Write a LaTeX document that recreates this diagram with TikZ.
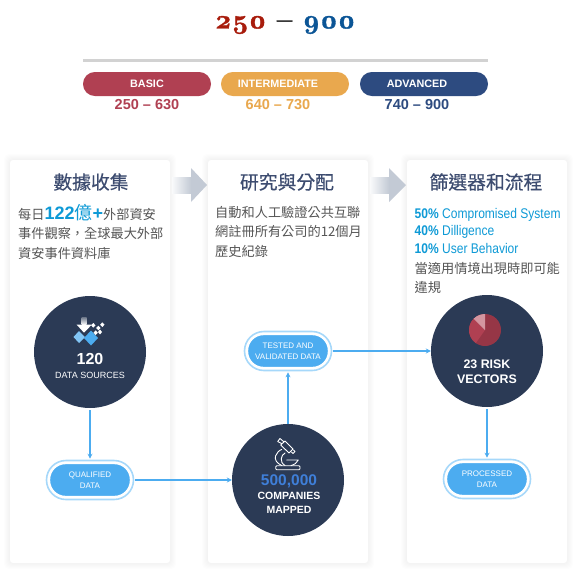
\documentclass[tikz,border=0pt]{standalone}
\usepackage{fontspec}
\usepackage{xcolor}
\usepackage{tikz}
\usetikzlibrary{arrows.meta,positioning}
\setmainfont{Liberation Sans}
\newfontfamily\cjk{Noto Sans CJK TC}
\newfontfamily\cjkhead[FakeBold=0.5]{Noto Sans CJK TC}
\newfontfamily\narrowsans[FakeStretch=0.86]{Liberation Sans}
\newfontfamily\titlefont[Numbers=OldStyle,Extension=.otf,FakeBold=1.2]{lmroman10-bold}
\definecolor{navy}{HTML}{2B3A55}
\definecolor{sky}{HTML}{4CACF0}
\definecolor{skylight}{HTML}{A6D8FA}
\definecolor{basiccol}{HTML}{B04052}
\definecolor{midcol}{HTML}{E9A84E}
\definecolor{advcol}{HTML}{2D4B80}
\definecolor{headcol}{HTML}{3D4C70}
\definecolor{bodycol}{HTML}{555555}
\definecolor{cyantext}{HTML}{0E9AD6}
\definecolor{arrowgray}{HTML}{C3CAD5}
\definecolor{countcol}{HTML}{3F7FD9}

\begin{document}
\begin{tikzpicture}[
  x=1pt,y=-1pt,
  band/.style={rectangle,rounded corners=11.9pt,minimum width=128pt,minimum height=24pt,inner sep=0pt,text=white,font=\fontsize{10.8}{13}\selectfont\bfseries},
  score/.style={font=\fontsize{14.5}{16}\selectfont\bfseries,inner sep=0pt},
  card/.style={fill=white,rounded corners=3pt,minimum width=160pt,minimum height=403pt,inner sep=0pt},
  cardtitle/.style={font=\cjkhead\fontsize{18.8}{20}\selectfont,text=headcol,inner sep=0pt},
  cardtext/.style={font=\cjk\fontsize{13.2}{19.4}\selectfont,text=bodycol,align=left,anchor=north west,inner sep=0pt},
  hub/.style={circle,fill=navy,minimum size=112pt,inner sep=0pt,align=center,text=white},
  stage/.style={rectangle,rounded corners=16pt,fill=sky,draw=white,line width=1.4pt,minimum width=81pt,minimum height=33pt,inner sep=0pt,align=center,text=white,font=\fontsize{8}{11}\selectfont},
  ring/.style={rectangle,rounded corners=19.5pt,draw=skylight,line width=1.6pt,minimum width=87pt,minimum height=39pt,inner sep=0pt},
  arr/.style={-{Stealth[length=5pt,width=5pt]},sky,line width=1.1pt}
]
\useasboundingbox (0,0) rectangle (576,587);
\fill[white] (0,0) rectangle (576,587);

\node[inner sep=0pt] (range) at (285,25) {\titlefont\fontsize{27}{30}\selectfont\textcolor[HTML]{A81C0C}{250} \textcolor{black}{–} \textcolor[HTML]{0B5596}{900}};
\fill[gray!35] (83,58.5) rectangle (488,61.5);

\node[band,fill=basiccol] (basic) at (147,84) {BASIC};
\node[band,fill=midcol] (mid) at (285,84) {\hspace*{-14pt}INTERMEDIATE};
\node[band,fill=advcol] (adv) at (424,84) {\hspace*{-14pt}ADVANCED};
\node[score,text=basiccol] (basicrange) at (147,105) {250 – 630};
\node[score,text=midcol] (midrange) at (278,105) {640 – 730};
\node[score,text=advcol] (advrange) at (417,105) {740 – 900};

\foreach \cx in {90,288,487}
  \foreach \s in {6,5,4,3,2,1}
    \fill[black,opacity=0.008,rounded corners=5pt] (\cx-80-\s,160-\s) rectangle (\cx+80+\s,563+\s);

\node[card] (collect) at (90,361.5) {};
\node[card] (research) at (288,361.5) {};
\node[card] (filter) at (487,361.5) {};

\shade[left color=arrowgray!10,right color=arrowgray] (172,177) rectangle (191,193);
\fill[arrowgray] (191,168) -- (207,185) -- (191,202) -- cycle;
\shade[left color=arrowgray!10,right color=arrowgray] (370,177) rectangle (389,193);
\fill[arrowgray] (389,168) -- (406,185) -- (389,202) -- cycle;

\node[cardtitle] (collecthead) at (91,182) {數據收集};
\node[cardtitle] (researchhead) at (287,182) {研究與分配};
\node[cardtitle] (filterhead) at (486,182) {篩選器和流程};

\node[cardtext] (collectbody) at (18,208) {每日\smash{\textcolor{cyantext}{\fontsize{18}{18}\selectfont\rmfamily\bfseries 122\cjk\mdseries 億\rmfamily\bfseries +}}\cjk\fontsize{13.2}{19.4}\selectfont\mdseries 外部資安\\事件觀察\symbol{"FF0C}全球最大外部\\資安事件資料庫};
\node[cardtext] (researchbody) at (215,206) {自動和人工驗證公共互聯\\網註冊所有公司的12個月\\歷史紀錄};
\node[cardtext,text=cyantext,font=\fontsize{14}{17.6}\selectfont\narrowsans] (weights) at (414.5,208) {\textbf{50\%} Compromised System\\\textbf{40\%} Dilligence\\\textbf{10\%} User Behavior};
\node[cardtext] (filterbody) at (414.5,262) {當適用情境出現時即可能\\違規};

\node[hub] (sources) at (90,352) {};
\node[hub] (mapped) at (288,480) {};
\node[hub] (vectors) at (487,351) {};

\node[text=white,inner sep=0pt,font=\fontsize{16}{18}\selectfont\bfseries] (sourcesnum) at (90,359) {120};
\node[text=white,inner sep=0pt,font=\fontsize{9}{11}\selectfont] (sourceslabel) at (90,375) {DATA SOURCES};
\node[text=countcol,inner sep=0pt,font=\fontsize{15.5}{18}\selectfont\bfseries] (mappednum) at (289,481) {500,000};
\node[text=white,inner sep=0pt,align=center,font=\fontsize{10.5}{13.5}\selectfont\bfseries] (mappedlabel) at (289,503) {COMPANIES\\MAPPED};
\node[text=white,inner sep=0pt,align=center,font=\fontsize{12.4}{15}\selectfont\bfseries] (vectorslabel) at (487,371.5) {23 RISK\\VECTORS};

\fill[sky!70] (79,331) -- (85,337) -- (79,343) -- (73.5,337) -- cycle;
\fill[sky] (91,330.5) -- (98,338) -- (91,345.5) -- (84,338) -- cycle;
\shade[top color=white!30!navy,bottom color=white] (81.7,317) rectangle (86.7,324.7);
\fill[white] (76.7,324.7) -- (91.7,324.7) -- (84,332.7) -- cycle;
\foreach \dx/\dy in {93.3/323,98.3/325.7,102.3/322.4,100/329.7,95.7/330.4}
  \fill[white] (\dx,\dy) -- ++(2.2,2.3) -- ++(-2.2,2.3) -- ++(-2.2,-2.3) -- cycle;

\begin{scope}[white,line width=0.9pt,line join=round,line cap=round]
\draw (280.7,445) -- (285,441) -- (293,449) -- (289,453) -- cycle;
\draw (281.5,443.5) -- (277.7,441.5) -- (280,438.5) -- (283.5,441.5);
\draw (291.5,452) -- (293,453.5) -- (295,451.5) -- (293.5,450);
\draw (281.7,449.5) .. controls (277,451) and (270,460) .. (281.7,465.5);
\draw (285,453) .. controls (281,455) and (279,462) .. (285,465.5);
\draw[rounded corners=1pt] (275.7,465.7) rectangle (300,469.7);
\draw (286.7,460) -- (298.3,460) .. controls (297,463) and (294,465) .. (291,465.7);
\end{scope}

\fill[basiccol!85!black] (485,330) circle (16);
\fill[basiccol] (485,330) -- ++(125:16) arc[start angle=125,end angle=225,radius=16] -- cycle;
\fill[basiccol!55!white] (485,330) -- ++(225:16) arc[start angle=225,end angle=270,radius=16] -- cycle;

\node[ring] (qualifiedring) at (90,480) {};
\node[ring] (testedring) at (288,351) {};
\node[ring] (processedring) at (487,479) {};
\node[stage] (qualified) at (90,480) {QUALIFIED\\DATA};
\node[stage] (tested) at (288,351) {TESTED AND\\VALIDATED DATA};
\node[stage] (processed) at (487,479) {PROCESSED\\DATA};

\draw[arr,shorten <=2pt,shorten >=1pt] (sources) -- (qualifiedring);
\draw[arr,shorten <=1pt] (qualifiedring) -- (mapped);
\draw[arr,shorten >=1pt] (mapped) -- (testedring);
\draw[arr,shorten <=1pt] (testedring) -- (vectors);
\draw[arr,shorten <=2pt,shorten >=1pt] (vectors) -- (processedring);
\end{tikzpicture}
\end{document}
